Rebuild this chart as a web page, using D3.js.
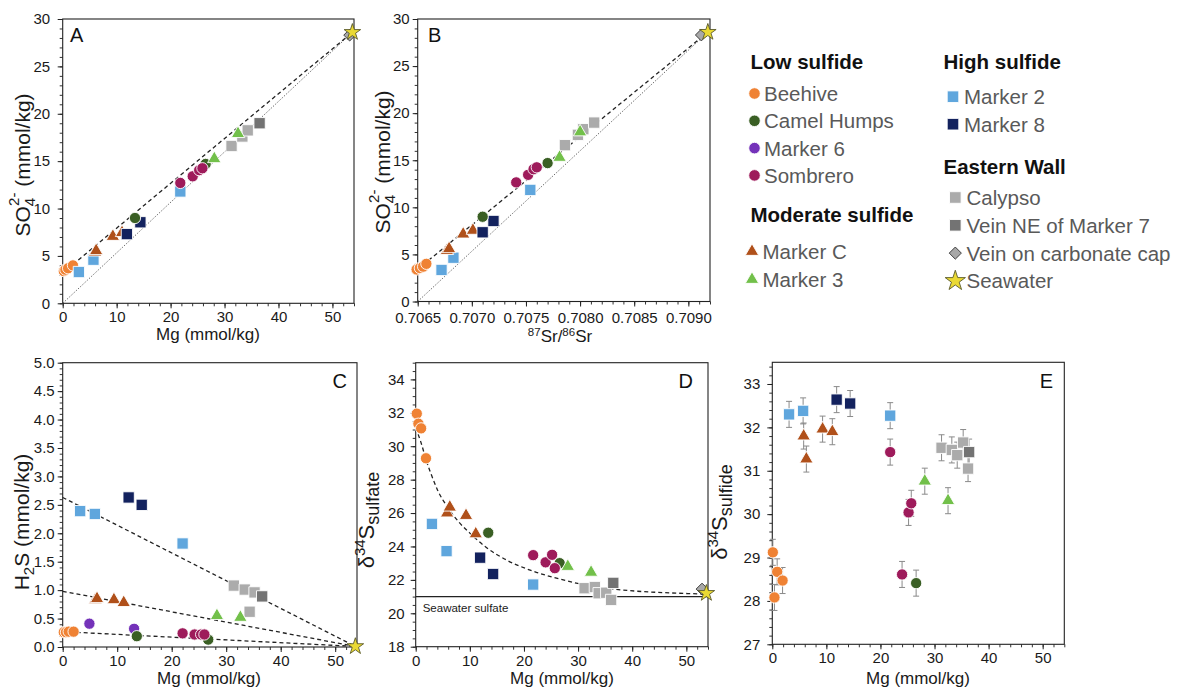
<!DOCTYPE html>
<html><head><meta charset="utf-8">
<script src="https://cdn.jsdelivr.net/npm/d3@7"></script>
<style>
body{margin:0;background:#fff;}
svg{font-family:"Liberation Sans",Arial,Helvetica,sans-serif;}
</style></head><body>
<svg id="c" width="1185" height="689"></svg>
<script>
// ---------------- DATA ----------------
// Panel A: [site, Mg (mmol/kg), SO4 (mmol/kg)]
const panelA = [
  ["Calypso",31.3,16.6],["Calypso",33.3,17.6],["Calypso",34.3,18.25],
  ["Vein NE of Marker 7",36.5,19.0],
  ["Beehive",0.2,3.4],["Beehive",0.5,3.55],["Beehive",1.0,3.7],["Beehive",1.9,4.0],
  ["Marker 2",3.0,3.3],["Marker 2",5.7,4.6],["Marker 2",21.8,11.8],
  ["Marker C",6.0,5.4],["Marker C",6.2,5.55],["Marker C",9.3,7.05],["Marker C",11.0,7.45],
  ["Marker 8",11.9,7.3],["Marker 8",14.4,8.55],
  ["Camel Humps",13.4,9.0],["Camel Humps",26.5,14.7],
  ["Sombrero",21.8,12.7],["Sombrero",24.1,13.4],["Sombrero",25.3,14.05],["Sombrero",25.9,14.25],
  ["Marker 3",28.1,15.25],["Marker 3",32.5,17.9],
  ["Vein on carbonate cap",53.2,28.3],["Seawater",53.7,28.6]
];
const aDashed = [[1.9,4.1],[53.7,28.6]];
const aDotted = [[0,0],[53.7,28.6]];

// Panel B: [site, 87Sr/86Sr, SO4 (mmol/kg)]
const panelB = [
  ["Calypso",0.70786,16.6],["Calypso",0.70798,17.7],["Calypso",0.70803,18.3],["Calypso",0.70813,19.0],
  ["Beehive",0.70649,3.4],["Beehive",0.70652,3.55],["Beehive",0.70655,3.7],["Beehive",0.70658,4.0],
  ["Marker 2",0.70672,3.35],["Marker 2",0.70683,4.65],["Marker 2",0.70754,11.85],
  ["Marker C",0.70677,5.4],["Marker C",0.70679,5.6],["Marker C",0.70692,7.15],["Marker C",0.70701,7.55],
  ["Marker 8",0.70710,7.35],["Marker 8",0.70720,8.55],
  ["Camel Humps",0.70710,9.0],["Camel Humps",0.70770,14.7],
  ["Sombrero",0.70741,12.65],["Sombrero",0.70752,13.45],["Sombrero",0.70757,14.05],["Sombrero",0.70760,14.25],
  ["Marker 3",0.70781,15.3],["Marker 3",0.70800,18.0],
  ["Vein on carbonate cap",0.70912,28.3],["Seawater",0.70918,28.6]
];
const bDashed = [[0.70655,3.9],[0.70918,28.6]];
const bDotted = [[0.7065,0],[0.70918,28.6]];

// Panel C: [site, Mg (mmol/kg), H2S (mmol/kg)]
const panelC = [
  ["Calypso",31.4,1.08],["Calypso",33.4,1.01],["Calypso",35.2,0.96],["Calypso",34.3,0.62],
  ["Vein NE of Marker 7",36.6,0.89],
  ["Beehive",0.2,0.26],["Beehive",0.6,0.26],["Beehive",1.1,0.27],["Beehive",2.0,0.27],
  ["Marker 6",4.9,0.41],["Marker 6",13.1,0.32],
  ["Camel Humps",13.6,0.19],["Camel Humps",26.7,0.13],
  ["Sombrero",22.0,0.24],["Sombrero",24.2,0.22],["Sombrero",25.4,0.22],["Sombrero",26.0,0.22],
  ["Marker C",6.0,0.83],["Marker C",6.3,0.85],["Marker C",9.4,0.83],["Marker C",11.2,0.78],
  ["Marker 3",28.3,0.55],["Marker 3",32.6,0.52],
  ["Marker 2",3.2,2.39],["Marker 2",5.9,2.34],["Marker 2",22.0,1.82],
  ["Marker 8",12.1,2.63],["Marker 8",14.5,2.50],
  ["Seawater",53.7,0.01]
];
const cMixLines = [
  [[0,2.63],[53.7,0.01]],
  [[0,0.98],[53.7,0.01]],
  [[0,0.27],[53.7,0.01]]
];

// Panel D: [site, Mg (mmol/kg), d34S sulfate]
const panelD = [
  ["Calypso",31.2,21.5],["Calypso",33.1,21.57],["Calypso",33.8,21.2],["Calypso",35.2,21.23],["Calypso",36.1,20.8],
  ["Vein NE of Marker 7",36.5,21.82],
  ["Beehive",0.2,31.95],["Beehive",0.5,31.35],["Beehive",1.0,31.07],["Beehive",1.9,29.28],
  ["Marker C",5.8,26.0],["Marker C",6.3,26.35],["Marker C",9.3,25.85],["Marker C",11.1,24.75],
  ["Marker 2",3.0,25.35],["Marker 2",5.7,23.72],["Marker 2",21.7,21.72],
  ["Marker 8",11.9,23.33],["Marker 8",14.3,22.35],
  ["Camel Humps",13.4,24.82],["Camel Humps",26.6,23.0],
  ["Sombrero",21.7,23.48],["Sombrero",24.0,23.05],["Sombrero",25.2,23.5],["Sombrero",25.7,22.7],
  ["Marker 3",28.1,22.8],["Marker 3",32.4,22.45],
  ["Vein on carbonate cap",52.9,21.45],["Seawater",53.7,21.2]
];
const dCurve = [[0,31.1],[1,30.2],[2,29.1],[3,28.2],[4,27.4],[6,26.3],[8,25.45],[10,24.8],[13,23.95],
  [17,23.15],[21,22.6],[26,22.1],[31,21.72],[36,21.47],[41,21.32],[47,21.22],[53.7,21.15]];
const seawaterSulfate = 21.0;

// Panel E: [site, Mg (mmol/kg), d34S sulfide]
const panelE = [
  ["Calypso",31.3,31.53],["Calypso",33.2,31.48],["Calypso",34.2,31.36],["Calypso",35.3,31.65],["Calypso",36.2,31.05],
  ["Vein NE of Marker 7",36.4,31.43],
  ["Beehive",0.1,29.12],["Beehive",0.9,28.67],["Beehive",1.9,28.47],["Beehive",0.4,28.08],
  ["Marker 2",3.1,32.3],["Marker 2",5.7,32.38],["Marker 2",21.8,32.27],
  ["Marker C",5.8,31.8],["Marker C",6.3,31.27],["Marker C",9.3,31.96],["Marker C",11.1,31.9],
  ["Marker 8",11.9,32.64],["Marker 8",14.4,32.55],
  ["Sombrero",21.8,31.43],["Sombrero",24.0,28.61],["Sombrero",25.2,30.04],["Sombrero",25.7,30.25],
  ["Camel Humps",26.6,28.41],
  ["Marker 3",28.2,30.76],["Marker 3",32.5,30.31]
];
const sulfideErr = 0.3;

// Tick labels
const mgTicks = [0,10,20,30,40,50];
const so4Ticks = [0,5,10,15,20,25,30];
const srTicks = [0.7065,0.7070,0.7075,0.7080,0.7085,0.7090];
const h2sTicks = [0,0.5,1.0,1.5,2.0,2.5,3.0,3.5,4.0,4.5,5.0];
const sulfateTicks = [18,20,22,24,26,28,30,32,34];
const sulfideTicks = [27,28,29,30,31,32,33];

// Legend groups
const legendLow = ["Beehive","Camel Humps","Marker 6","Sombrero"];
const legendModerate = ["Marker C","Marker 3"];
const legendHigh = ["Marker 2","Marker 8"];
const legendEastern = ["Calypso","Vein NE of Marker 7","Vein on carbonate cap","Seawater"];

// ---------------- STYLE ----------------
const style = {
  "Beehive":{shape:"circle",fill:"#EF8234"},
  "Camel Humps":{shape:"circle",fill:"#3A5F24"},
  "Marker 6":{shape:"circle",fill:"#7432B9"},
  "Sombrero":{shape:"circle",fill:"#9E1B5B"},
  "Marker C":{shape:"triangle",fill:"#B0501A"},
  "Marker 3":{shape:"triangle",fill:"#72C04A"},
  "Marker 2":{shape:"square",fill:"#5FA6DD"},
  "Marker 8":{shape:"square",fill:"#13225E"},
  "Calypso":{shape:"square",fill:"#ABABAB"},
  "Vein NE of Marker 7":{shape:"square",fill:"#737373"},
  "Vein on carbonate cap":{shape:"diamond",fill:"#A8A8A8"},
  "Seawater":{shape:"star",fill:"#EAD934"}
};
function symPath(shape, scale) {
  const s = scale || 1;
  const t = {circle:[d3.symbolCircle,100],square:[d3.symbolSquare,128],triangle:[d3.symbolTriangle,78],
             diamond:[d3.symbolSquare,70],star:[d3.symbolStar,85]}[shape];
  return d3.symbol().type(t[0]).size(t[1]*s)();
}
function drawMark(g, name, px, py, scale) {
  const st = style[name];
  const p = g.append("path").attr("d", symPath(st.shape, scale))
    .attr("transform", `translate(${px},${py})` + (st.shape==="diamond" ? " rotate(45)" : ""))
    .attr("fill", st.fill);
  if (st.shape==="diamond") p.attr("stroke","#3a3a3a").attr("stroke-width",0.9);
  else if (st.shape==="star") p.attr("stroke","#5a5a2a").attr("stroke-width",0.9);
  else p.attr("stroke","#fff").attr("stroke-width",0.9);
}

const svg = d3.select("#c");
const TICK_FS = "15px";

function panel(cfg) {
  const g = svg.append("g");
  const x = d3.scaleLinear().domain(cfg.xd).range([cfg.x0, cfg.x1]);
  const y = d3.scaleLinear().domain(cfg.yd).range([cfg.y0, cfg.y1]);
  // minor ticks
  g.append("g").attr("transform",`translate(0,${cfg.y0})`)
    .call(d3.axisBottom(x).tickValues(cfg.xMinor).tickSize(3).tickFormat(""))
    .call(s=>{s.select(".domain").remove(); s.selectAll("line").attr("stroke","#333");});
  g.append("g").attr("transform",`translate(${cfg.x0},0)`)
    .call(d3.axisLeft(y).tickValues(cfg.yMinor).tickSize(3).tickFormat(""))
    .call(s=>{s.select(".domain").remove(); s.selectAll("line").attr("stroke","#333");});
  // major
  g.append("g").attr("transform",`translate(0,${cfg.y0})`)
    .call(d3.axisBottom(x).tickValues(cfg.xTicks).tickSize(5).tickPadding(cfg.xPad || 3.5).tickFormat(cfg.xFmt))
    .call(s=>{s.select(".domain").remove(); s.selectAll("line").attr("stroke","#222");
      s.selectAll("text").style("font-size",TICK_FS).attr("fill","#1a1a1a").style("font-family","inherit");});
  g.append("g").attr("transform",`translate(${cfg.x0},0)`)
    .call(d3.axisLeft(y).tickValues(cfg.yTicks).tickSize(5).tickPadding(cfg.yPad).tickFormat(cfg.yFmt))
    .call(s=>{s.select(".domain").remove(); s.selectAll("line").attr("stroke","#222");
      s.selectAll("text").style("font-size",TICK_FS).attr("fill","#1a1a1a").style("font-family","inherit");});
  // frame
  g.append("rect").attr("x",cfg.x0).attr("y",cfg.y1).attr("width",cfg.x1-cfg.x0).attr("height",cfg.y0-cfg.y1)
    .attr("fill","none").attr("stroke","#222").attr("stroke-width",1.1);
  return {g,x,y};
}
function line(p, pts, kind) {
  const l = d3.line().x(d=>p.x(d[0])).y(d=>p.y(d[1]));
  const path = p.g.append("path").attr("d", l(pts)).attr("fill","none");
  if (kind==="dashed") path.attr("stroke","#222").attr("stroke-width",1.3).attr("stroke-dasharray","4,3");
  else if (kind==="dotted") path.attr("stroke","#444").attr("stroke-width",0.8).attr("stroke-dasharray","1.4,1.6");
  else path.attr("stroke","#222").attr("stroke-width",1.1);
  return path;
}
function points(p, rows) {
  rows.forEach(r => drawMark(p.g, r[0], p.x(r[1]), p.y(r[2])));
}
function panelLetter(txt, x, y, anchor) {
  svg.append("text").attr("x",x).attr("y",y).attr("text-anchor",anchor).style("font-size","20px").attr("fill","#111").text(txt);
}
function xLabel(x, y, build) {
  const t = svg.append("text").attr("x",x).attr("y",y).attr("text-anchor","middle").style("font-size","17px").attr("fill","#1a1a1a");
  build(t);
}
function yLabel(x, y, fs, build) {
  const t = svg.append("text").attr("transform",`translate(${x},${y}) rotate(-90)`).attr("text-anchor","middle")
    .style("font-size",fs).attr("fill","#1a1a1a");
  build(t);
}
const fmt0 = d3.format("d"), fmt1 = d3.format(".1f"), fmt4 = d3.format(".4f");

// ---------- Panel A ----------
const A = panel({x0:62.7,x1:354,y0:303.3,y1:19,xd:[0,54],yd:[0,30],xTicks:mgTicks,yTicks:so4Ticks,
  xMinor:d3.range(0,55,2),yMinor:d3.range(0,31,1),xFmt:fmt0,yFmt:fmt0,yPad:7.5});
line(A, aDotted, "dotted"); line(A, aDashed, "dashed");
points(A, panelA);
panelLetter("A", 70, 42, "start");

// ---------- Panel B ----------
const B = panel({x0:417.7,x1:710,y0:301.5,y1:19,xd:[0.7065,0.7092],yd:[0,30],xTicks:srTicks,yTicks:so4Ticks,
  xMinor:d3.range(0,28).map(i=>0.7065+i*0.0001),yMinor:d3.range(0,31,1),xFmt:fmt4,yFmt:fmt0,yPad:3,xPad:5.5});
line(B, bDotted, "dotted"); line(B, bDashed, "dashed");
points(B, panelB);
panelLetter("B", 428, 42, "start");

// ---------- Panel C ----------
const C = panel({x0:62.7,x1:357,y0:647,y1:362.7,xd:[0,54],yd:[0,5],xTicks:mgTicks,yTicks:h2sTicks,
  xMinor:d3.range(0,55,2),yMinor:d3.range(0,51).map(i=>i/10),xFmt:fmt0,yFmt:fmt1,yPad:3});
cMixLines.forEach(l=>line(C, l, "dashed"));
points(C, panelC);
panelLetter("C", 347, 388, "end");

// ---------- Panel D ----------
const D = panel({x0:415.7,x1:708,y0:646.7,y1:362.7,xd:[0,54],yd:[18,35],xTicks:mgTicks,yTicks:sulfateTicks,
  xMinor:d3.range(0,55,2),yMinor:d3.range(35).map(i=>18+i*0.5),xFmt:fmt0,yFmt:fmt0,yPad:6});
line(D, [[0,seawaterSulfate],[54,seawaterSulfate]], "solid");
D.g.append("path").attr("d", d3.line().curve(d3.curveMonotoneX).x(d=>D.x(d[0])).y(d=>D.y(d[1]))(dCurve))
  .attr("fill","none").attr("stroke","#222").attr("stroke-width",1.3).attr("stroke-dasharray","4,3");
D.g.append("text").attr("x",D.x(0)+7).attr("y",D.y(seawaterSulfate)+15).style("font-size","11.5px").attr("fill","#1a1a1a").text("Seawater sulfate");
points(D, panelD);
panelLetter("D", 693, 388, "end");

// ---------- Panel E ----------
const E = panel({x0:772.3,x1:1064.3,y0:644.3,y1:362.3,xd:[0,54],yd:[27,33.5],xTicks:mgTicks,yTicks:sulfideTicks,
  xMinor:d3.range(0,55,2),yMinor:d3.range(33).map(i=>27+i*0.2),xFmt:fmt0,yFmt:fmt0,yPad:7});
panelE.forEach(r=>{
  const px=E.x(r[1]), yt=E.y(r[2]+sulfideErr), yb=E.y(r[2]-sulfideErr);
  const eg=E.g.append("g").attr("stroke","#8a8a8a").attr("stroke-width",1);
  eg.append("line").attr("x1",px).attr("x2",px).attr("y1",yt).attr("y2",yb);
  eg.append("line").attr("x1",px-3).attr("x2",px+3).attr("y1",yt).attr("y2",yt);
  eg.append("line").attr("x1",px-3).attr("x2",px+3).attr("y1",yb).attr("y2",yb);
});
points(E, panelE);
panelLetter("E", 1053, 388, "end");

// ---------- Axis labels ----------
xLabel(208, 340, t=>t.text("Mg (mmol/kg)"));
xLabel(560, 342, t=>{
  t.append("tspan").text("87").style("font-size","11.5px").attr("dy",-6);
  t.append("tspan").text("Sr/").attr("dy",6);
  t.append("tspan").text("86").style("font-size","11.5px").attr("dy",-6);
  t.append("tspan").text("Sr").attr("dy",6);
});
xLabel(209, 684, t=>t.text("Mg (mmol/kg)"));
xLabel(562, 684, t=>t.text("Mg (mmol/kg)"));
xLabel(918, 684, t=>t.text("Mg (mmol/kg)"));

function so4Label(t){
  t.append("tspan").text("SO");
  t.append("tspan").text("4").style("font-size","15px").attr("dy",5);
  t.append("tspan").text("2-").style("font-size","15px").attr("dx",-8).attr("dy",-16);
  t.append("tspan").text(" (mmol/kg)").attr("dy",11);
}
yLabel(30, 165, "21px", so4Label);
yLabel(390, 162, "21px", so4Label);
yLabel(29, 522, "21px", t=>{
  t.append("tspan").text("H");
  t.append("tspan").text("2").style("font-size","15px").attr("dy",5);
  t.append("tspan").text("S (mmol/kg)").attr("dy",-5);
});
function deltaLabel(sub){ return t=>{
  t.append("tspan").text("\u03b4");
  t.append("tspan").text("34").style("font-size","15px").attr("dy",-9);
  t.append("tspan").text("S").attr("dy",9);
  t.append("tspan").text(sub).style("font-size","18px").attr("dy",5);
};}
yLabel(374, 520, "22px", deltaLabel("sulfate"));
yLabel(727, 512, "22px", deltaLabel("sulfide"));

// ---------- Legend ----------
const lg = svg.append("g");
function header(txt, x, y){ lg.append("text").attr("x",x).attr("y",y).style("font-size","20.5px").style("font-weight","bold").attr("fill","#111").text(txt); }
function item(name, mx, tx, cy){
  drawMark(lg, name, mx, cy, style[name].shape==="star"?1.5:(style[name].shape==="triangle"?1.0:1.05));
  lg.append("text").attr("x",tx).attr("y",cy+7.5).style("font-size","20.5px").attr("fill","#595959").text(name);
}
header("Low sulfide", 750.5, 69);
legendLow.forEach((n,i)=>item(n, 754.5, 764, 93.5 + i*27.3));
header("Moderate sulfide", 750.5, 221.5);
legendModerate.forEach((n,i)=>item(n, 752, 762.5, 251.5 + i*28));
header("High sulfide", 943.5, 69);
legendHigh.forEach((n,i)=>item(n, 953, 964, 96.7 + i*27.5));
header("Eastern Wall", 943.5, 173.5);
legendEastern.forEach((n,i)=>item(n, 955.3, 966.5, 197.5 + i*27.8));
</script>
</body></html>
